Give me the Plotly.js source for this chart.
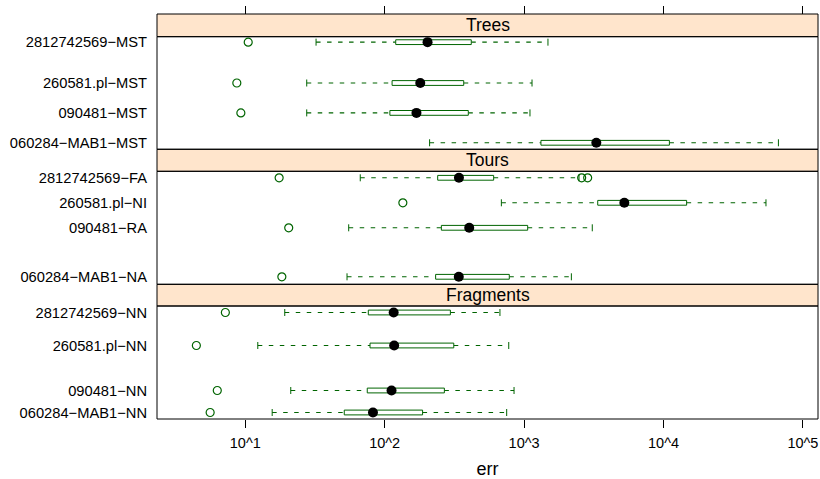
<!DOCTYPE html>
<html>
<head>
<meta charset="utf-8">
<script src="https://cdn.plot.ly/plotly-3.0.1.min.js"></script>
<style>html,body{margin:0;padding:0;background:#fff;}#chart{width:820px;height:479px;}</style>
</head>
<body>
<div id="chart"></div>
<script>
// ---- data ----
// Panel "Trees" (top to bottom)
const treesLabels = ['2812742569−MST', '260581.pl−MST', '090481−MST', '060284−MAB1−MST'];
const treesY      = [1.01, 0.60, 0.30, 0.00];
const treesLow    = [32.2, 27.6, 27.6, 210];
const treesQ1     = [120, 113, 109, 1321];
const treesMed    = [203, 180, 169, 3296];
const treesQ3     = [418, 369, 398, 11020];
const treesHigh   = [1483, 1140, 1102, 66700];
const treesOut    = [[10.5], [8.7], [9.3], []];

// Panel "Tours"
const toursLabels = ['2812742569−FA', '260581.pl−NI', '090481−RA', '060284−MAB1−NA'];
const toursY      = [1.00, 0.75, 0.50, 0.01];
const toursLow    = [66.8, 687, 55.2, 53.7];
const toursQ1     = [240, 3373, 255, 232];
const toursMed    = [341, 5236, 404, 340];
const toursQ3     = [605, 14650, 1061, 783];
const toursHigh   = [2477, 54300, 3083, 2183];
const toursOut    = [[17.5, 2588, 2857], [135], [20.5], [18.3]];

// Panel "Fragments"
const fragLabels  = ['2812742569−NN', '260581.pl−NN', '090481−NN', '060284−MAB1−NN'];
const fragY       = [1.00, 0.67, 0.22, 0.00];
const fragLow     = [19.2, 12.3, 21.2, 15.6];
const fragQ1      = [76.3, 78.5, 75, 51.3];
const fragMed     = [116, 117, 112, 82.4];
const fragQ3      = [296, 313, 268, 187];
const fragHigh    = [671, 776, 847, 750];
const fragOut     = [[7.2], [4.46], [6.3], [5.6]];

const stripNames  = ['Trees', 'Tours', 'Fragments'];
const xTickVals   = [10, 100, 1000, 10000, 100000];
const xTickText   = ['10^1', '10^2', '10^3', '10^4', '10^5'];

// ---- styling ----
const GREEN = '#006400';
const FONT = 'Liberation Sans, Arial, Helvetica, sans-serif';
const H = 0.024; // half box height in y units

const traces = [];
function addPanel(yref, xref, ys, low, q1, med, q3, high, outs) {
  for (let i = 0; i < ys.length; i++) {
    const y = ys[i];
    // whiskers (dashed)
    traces.push({type:'scatter', mode:'lines', xaxis:xref, yaxis:yref,
      x:[low[i], q1[i]], y:[y, y], line:{color:GREEN, width:1.1, dash:'4.5px,6.5px'}, hoverinfo:'skip'});
    traces.push({type:'scatter', mode:'lines', xaxis:xref, yaxis:yref,
      x:[q3[i], high[i]], y:[y, y], line:{color:GREEN, width:1.1, dash:'4.5px,6.5px'}, hoverinfo:'skip'});
    // whisker caps
    traces.push({type:'scatter', mode:'markers', xaxis:xref, yaxis:yref,
      x:[low[i], high[i]], y:[y, y], marker:{symbol:'line-ns', size:5, line:{color:GREEN, width:1}}, hoverinfo:'skip'});
    // box
    traces.push({type:'scatter', mode:'lines', xaxis:xref, yaxis:yref,
      x:[q1[i], q3[i], q3[i], q1[i], q1[i]], y:[y-H, y-H, y+H, y+H, y-H],
      fill:'toself', fillcolor:'#ffffff', line:{color:GREEN, width:1}, hoverinfo:'skip'});
    // median dot
    traces.push({type:'scatter', mode:'markers', xaxis:xref, yaxis:yref,
      x:[med[i]], y:[y], marker:{color:'#000000', size:10, line:{width:0}}, hoverinfo:'skip'});
    // outliers
    if (outs[i].length) {
      traces.push({type:'scatter', mode:'markers', xaxis:xref, yaxis:yref,
        x:outs[i], y:outs[i].map(() => y),
        marker:{symbol:'circle-open', color:GREEN, size:8, line:{color:GREEN, width:1.2}}, hoverinfo:'skip'});
    }
  }
}
addPanel('y3', 'x3', treesY, treesLow, treesQ1, treesMed, treesQ3, treesHigh, treesOut);
addPanel('y2', 'x2', toursY, toursLow, toursQ1, toursMed, toursQ3, toursHigh, toursOut);
addPanel('y',  'x',  fragY,  fragLow,  fragQ1,  fragMed,  fragQ3,  fragHigh,  fragOut);

// geometry (paper fractions)
const dTrees = [0.666, 0.944];
const dTours = [0.3326, 0.6116];
const dFrag  = [0, 0.279];
const stripDomains = [[0.944, 1], [0.6116, 0.666], [0.279, 0.3326]];
const panelDomains = [dTrees, dTours, dFrag];
const XR = [0.367, 5.108];
const YR = [-0.065, 1.065];

function yAxis(domain, vals, labels) {
  return {domain:domain, range:YR, tickvals:vals, ticktext:labels, ticks:'',
    showgrid:false, zeroline:false, showline:false, fixedrange:true,
    ticklabelstandoff:9, tickfont:{family:FONT, size:14.7, color:'#000'}};
}

const shapes = [];
const annotations = [];
stripDomains.forEach((d, k) => {
  shapes.push({type:'rect', xref:'paper', yref:'paper', x0:0, x1:1, y0:d[0], y1:d[1],
    fillcolor:'#FFE5CC', line:{color:'#000', width:1}, layer:'below'});
  annotations.push({xref:'paper', yref:'paper', x:0.5, y:(d[0]+d[1])/2, text:stripNames[k],
    showarrow:false, xanchor:'center', yanchor:'middle', font:{family:FONT, size:17.5, color:'#000'}});
});
panelDomains.forEach(d => {
  shapes.push({type:'rect', xref:'paper', yref:'paper', x0:0, x1:1, y0:d[0], y1:d[1],
    fillcolor:'rgba(0,0,0,0)', line:{color:'#000', width:1}, layer:'above'});
});

const layout = {
  width:820, height:479,
  margin:{l:157, r:2, t:14, b:60},
  paper_bgcolor:'#fff', plot_bgcolor:'#fff',
  showlegend:false,
  font:{family:FONT, color:'#000'},
  xaxis:{type:'log', range:XR, anchor:'y', tickvals:xTickVals, ticktext:xTickText,
    ticks:'outside', ticklen:8, tickcolor:'#000', tickwidth:1, ticklabelstandoff:3,
    showgrid:false, zeroline:false, showline:false,
    tickfont:{family:FONT, size:14.5, color:'#000'},
    title:{text:'err', font:{family:FONT, size:18, color:'#000'}, standoff:13}},
  xaxis2:{type:'log', range:XR, matches:'x', anchor:'y2', showticklabels:false, ticks:'',
    showgrid:false, zeroline:false, showline:false},
  xaxis3:{type:'log', range:XR, matches:'x', anchor:'free', position:1, side:'top',
    tickvals:xTickVals, showticklabels:false, ticks:'outside', ticklen:8, tickcolor:'#000', tickwidth:1,
    showgrid:false, zeroline:false, showline:false},
  yaxis: yAxis(dFrag, fragY, fragLabels),
  yaxis2: yAxis(dTours, toursY, toursLabels),
  yaxis3: yAxis(dTrees, treesY, treesLabels),
  shapes:shapes,
  annotations:annotations
};

Plotly.newPlot('chart', traces, layout, {staticPlot:true, displayModeBar:false});
</script>
</body>
</html>
